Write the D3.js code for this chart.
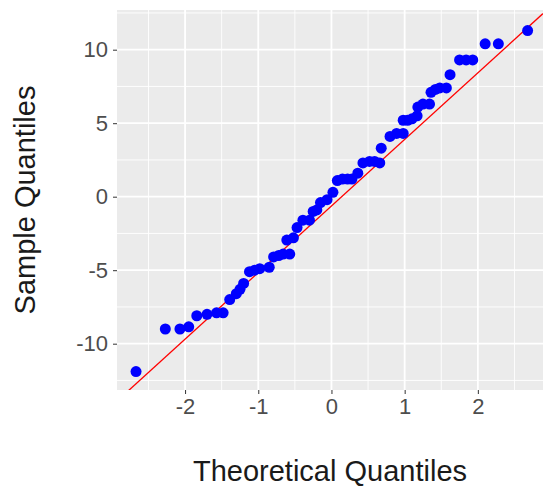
<!DOCTYPE html>
<html><head><meta charset="utf-8">
<script src="https://cdn.jsdelivr.net/npm/d3@7"></script>
<style>body{margin:0;background:#fff}</style>
</head><body><div id="chart"></div>
<script>
// QQ plot, values

const theoretical = [-2.67,-2.27,-2.07,-1.95,-1.84,-1.7,-1.57,-1.48,-1.39,-1.3,-1.25,-1.2,-1.12,-1.05,-0.98,-0.85,-0.79,-0.72,-0.66,-0.61,-0.57,-0.52,-0.47,-0.39,-0.3,-0.25,-0.2,-0.15,-0.06,0.02,0.08,0.15,0.22,0.28,0.36,0.43,0.52,0.59,0.66,0.68,0.8,0.89,0.98,0.98,1.04,1.1,1.17,1.18,1.25,1.34,1.36,1.42,1.48,1.57,1.62,1.75,1.84,1.93,2.1,2.28,2.68];
const sample = [-11.9,-9.0,-9.0,-8.85,-8.1,-8.0,-7.9,-7.9,-7.0,-6.6,-6.3,-5.9,-5.1,-5.0,-4.9,-4.8,-4.1,-4.0,-3.9,-2.95,-3.9,-2.8,-2.1,-1.6,-1.6,-1.0,-0.9,-0.4,-0.2,0.3,1.1,1.2,1.2,1.2,1.6,2.3,2.4,2.4,2.3,3.3,4.1,4.3,4.3,5.2,5.2,5.3,5.5,6.1,6.3,6.3,7.1,7.3,7.4,7.4,8.3,9.3,9.3,9.3,10.4,10.4,11.3];
const xTicks = [-2,-1,0,1,2];
const yTicks = [-10,-5,0,5,10];
const lineIntercept = -0.63, lineSlope = 4.53;

const W = 551, H = 493;
const P = {left: 117, right: 543, top: 10, bottom: 390};
const FONT = 'Liberation Sans, Arial, sans-serif';

const svg = d3.select('#chart').append('svg').attr('width', W).attr('height', H);

const x = d3.scaleLinear().domain([-2.93, 2.89]).range([P.left, P.right]);
const y = d3.scaleLinear().domain([-13.15, 12.7]).range([P.bottom, P.top]);

svg.append('rect').attr('x', P.left).attr('y', P.top)
  .attr('width', P.right - P.left).attr('height', P.bottom - P.top).attr('fill', '#EBEBEB');

const xMinor = [-2.5,-1.5,-0.5,0.5,1.5,2.5];
const yMinor = [-12.5,-7.5,-2.5,2.5,7.5,12.5];

svg.selectAll('.vminor').data(xMinor).enter().append('line')
  .attr('x1', d => x(d)).attr('x2', d => x(d)).attr('y1', P.top).attr('y2', P.bottom)
  .attr('stroke', '#fff').attr('stroke-width', 0.9);
svg.selectAll('.hminor').data(yMinor).enter().append('line')
  .attr('y1', d => y(d)).attr('y2', d => y(d)).attr('x1', P.left).attr('x2', P.right)
  .attr('stroke', '#fff').attr('stroke-width', 0.9);
svg.selectAll('.vmajor').data(xTicks).enter().append('line')
  .attr('x1', d => x(d)).attr('x2', d => x(d)).attr('y1', P.top).attr('y2', P.bottom)
  .attr('stroke', '#fff').attr('stroke-width', 1.8);
svg.selectAll('.hmajor').data(yTicks).enter().append('line')
  .attr('y1', d => y(d)).attr('y2', d => y(d)).attr('x1', P.left).attr('x2', P.right)
  .attr('stroke', '#fff').attr('stroke-width', 1.8);

// reference line, clipped to panel
svg.append('clipPath').attr('id', 'clip').append('rect')
  .attr('x', P.left).attr('y', P.top).attr('width', P.right - P.left).attr('height', P.bottom - P.top);
const lx = x.domain();
svg.append('line').attr('clip-path', 'url(#clip)')
  .attr('x1', x(lx[0])).attr('y1', y(lineIntercept + lineSlope * lx[0]))
  .attr('x2', x(lx[1])).attr('y2', y(lineIntercept + lineSlope * lx[1]))
  .attr('stroke', 'red').attr('stroke-width', 1.3);

svg.selectAll('.pt').data(theoretical).enter().append('circle')
  .attr('cx', d => x(d)).attr('cy', (d, i) => y(sample[i]))
  .attr('r', 5.5).attr('fill', '#0000FF');

// axes
const xAxis = svg.append('g').attr('transform', `translate(0,${P.bottom})`)
  .call(d3.axisBottom(x).tickValues(xTicks).tickSize(4).tickPadding(4).tickFormat(d => String(d)));
const yAxis = svg.append('g').attr('transform', `translate(${P.left},0)`)
  .call(d3.axisLeft(y).tickValues(yTicks).tickSize(4).tickPadding(5).tickFormat(d => String(d)));
[xAxis, yAxis].forEach(a => {
  a.select('.domain').remove();
  a.selectAll('.tick line').attr('stroke', '#333').attr('stroke-width', 1);
  a.selectAll('text').attr('fill', '#4D4D4D').attr('font-size', '22px').attr('font-family', FONT);
});

svg.append('text').attr('x', (P.left + P.right) / 2).attr('y', 481)
  .attr('text-anchor', 'middle').attr('font-size', '29px').attr('fill', '#1a1a1a')
  .attr('font-family', FONT).text('Theoretical Quantiles');
svg.append('text').attr('transform', `translate(35,${(P.top + P.bottom) / 2}) rotate(-90)`)
  .attr('text-anchor', 'middle').attr('font-size', '29px').attr('fill', '#1a1a1a')
  .attr('font-family', FONT).text('Sample Quantiles');
</script>
</body></html>
